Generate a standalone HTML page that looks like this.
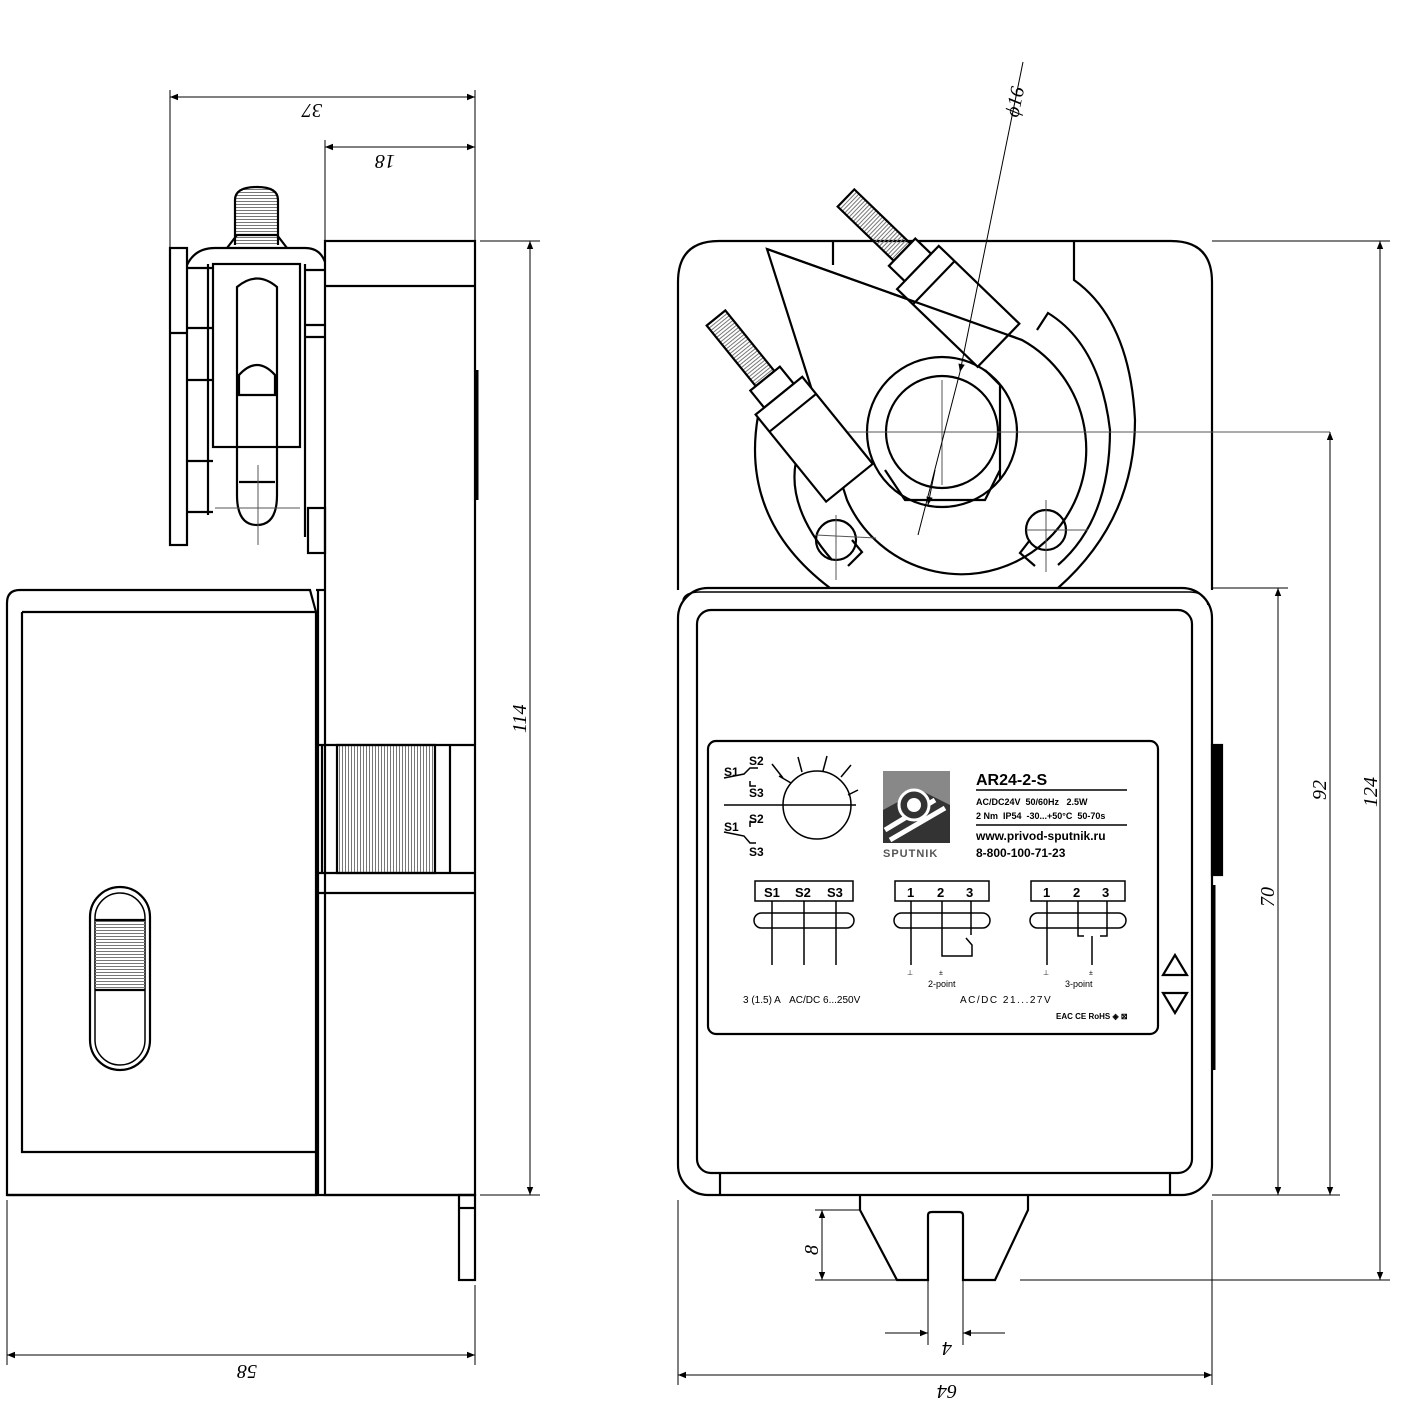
<!DOCTYPE html>
<html><head><meta charset="utf-8"><style>
html,body{margin:0;padding:0;background:#fff}
svg{display:block}
text{font-family:"Liberation Sans",sans-serif}
.d{font-family:"Liberation Serif",serif;font-style:italic;font-size:20px}
</style></head><body>
<svg width="1407" height="1411" viewBox="0 0 1407 1411" xmlns="http://www.w3.org/2000/svg">
<defs>
<marker id="a" viewBox="0 0 10 10" refX="10" refY="5" markerWidth="14" markerHeight="8" orient="auto-start-reverse" markerUnits="userSpaceOnUse"><path d="M0,1 L10,5 L0,9z" fill="#000"/></marker>
<pattern id="k" width="3" height="3" patternUnits="userSpaceOnUse"><rect width="3" height="1" fill="#777"/></pattern>
<pattern id="kv" width="3" height="3" patternUnits="userSpaceOnUse"><rect width="1" height="3" fill="#777"/></pattern>
</defs>
<g fill="none" stroke="#000" stroke-width="2.2">
<!-- LEFT VIEW -->
<rect x="325" y="241" width="150" height="954"/>
<line x1="325" y1="286" x2="475" y2="286"/>
<line x1="477" y1="370" x2="477" y2="500" stroke-width="3"/>
<rect x="170" y="248" width="17" height="297"/>
<line x1="170" y1="333" x2="187" y2="333"/>
<path d="M187,265 Q195,248 215,248 L305,248 Q320,248 325,262"/>
<rect x="213" y="264" width="87" height="183"/>
<line x1="187" y1="268" x2="213" y2="268"/>
<line x1="187" y1="328" x2="213" y2="328"/><line x1="187" y1="380" x2="213" y2="380"/><line x1="187" y1="461" x2="213" y2="461"/>
<line x1="187" y1="512" x2="213" y2="512"/>
<line x1="208" y1="264" x2="208" y2="515"/>
<line x1="305" y1="264" x2="305" y2="537"/>
<line x1="305" y1="270" x2="325" y2="270"/><line x1="305" y1="325" x2="325" y2="325"/><line x1="305" y1="337" x2="325" y2="337"/>
<rect x="308" y="508" width="17" height="45"/>
<path d="M237,287 Q257,270 277,287 L277,495 Q277,525 257,525 Q237,525 237,495 Z"/>
<path d="M239,375 Q257,355 275,375 L275,395 L239,395Z"/>
<line x1="239" y1="482" x2="275" y2="482"/>
<path d="M235,245 L235,200 Q235,187 257,187 Q278,187 278,200 L278,245" fill="url(#k)"/>
<path d="M227,248 L237,235 L277,235 L287,248"/>
<!-- lower body -->
<path d="M7,1195 L7,603 Q7,590 20,590 L310,590 L316,612 L316,1195 Z"/>
<path d="M22,612 L316,612 M22,612 L22,1152 L316,1152"/>
<line x1="316" y1="590" x2="325" y2="590"/>
<line x1="318" y1="590" x2="318" y2="1195"/>
<line x1="318" y1="745" x2="475" y2="745"/>
<line x1="318" y1="873" x2="475" y2="873"/>
<line x1="318" y1="893" x2="475" y2="893"/>
<rect x="337" y="745" width="98" height="128" fill="url(#kv)"/>
<line x1="322" y1="745" x2="322" y2="873"/><line x1="450" y1="745" x2="450" y2="873"/>
<rect x="90" y="887" width="60" height="183" rx="30"/>
<rect x="95" y="893" width="50" height="172" rx="25" stroke-width="1.5"/>
<rect x="95" y="920" width="50" height="70" fill="url(#k)" stroke="none"/>
<line x1="95" y1="920" x2="145" y2="920"/><line x1="95" y1="990" x2="145" y2="990"/>
<line x1="7" y1="1195" x2="475" y2="1195"/>
<rect x="459" y="1195" width="16" height="85"/>
<line x1="459" y1="1208" x2="475" y2="1208"/>
<!-- RIGHT VIEW upper -->
<path d="M678,590 L678,282 Q678,241 719,241 L1171,241 Q1212,241 1212,282 L1212,590"/>
<path d="M833,241 L833,265 M1074,241 L1074,280 Q1130,320 1135,420 Q1135,520 1058,588"/>
<path d="M758,416 Q740,520 830,588"/>
<!-- teardrop -->
<path d="M767,249 L1022,340 A125,125 0 1 1 847,500 Z" fill="#fff"/>
<circle cx="942" cy="432" r="75"/>
<circle cx="942" cy="432" r="56"/>
<path d="M885,470 L905,500 L985,500 L1000,470 M985,370 L1000,385 L1000,480"/>
<path d="M1037,330 L1048,313 Q1100,345 1110,430 Q1110,520 1058,565"/>
<path d="M800,447 Q780,500 832,560"/>
<circle cx="836" cy="540" r="20"/><circle cx="1046" cy="530" r="20"/>
<path d="M852,540 L862,552 L848,566 M1030,540 L1020,553 L1035,566"/>
<!-- screws -->
<g transform="translate(846,198) rotate(44)">
<rect x="0" y="-12" width="78" height="24" fill="url(#kv)"/>
<rect x="78" y="-19" width="22" height="38" fill="#fff"/>
<rect x="100" y="-30" width="112" height="60" fill="#fff"/>
<line x1="122" y1="-30" x2="122" y2="30"/>
</g>
<g transform="translate(716,318) rotate(51)">
<rect x="0" y="-12" width="78" height="24" fill="url(#kv)"/>
<rect x="78" y="-19" width="22" height="38" fill="#fff"/>
<rect x="100" y="-30" width="112" height="60" fill="#fff"/>
<line x1="122" y1="-30" x2="122" y2="30"/>
</g>
<path d="M767,249 L1022,340" />
<!-- lower box -->
<rect x="678" y="588" width="534" height="607" rx="30"/>
<rect x="697" y="610" width="495" height="563" rx="14"/>
<path d="M683,600 Q685,592 700,592 L1190,592 Q1205,592 1208,605" stroke-width="1.5"/>
<line x1="720" y1="1173" x2="720" y2="1195"/><line x1="1170" y1="1173" x2="1170" y2="1195"/>
<rect x="1212" y="745" width="10" height="130" fill="#000"/>
<line x1="1214" y1="885" x2="1214" y2="1070" stroke-width="3"/>
<path d="M1175,955 L1163,975 L1187,975Z M1163,993 L1187,993 L1175,1013Z"/>
<!-- bottom tab -->
<path d="M860,1195 L860,1210 L897,1280 L928,1280 L928,1215 Q928,1212 932,1212 L959,1212 Q963,1212 963,1215 L963,1280 L995,1280 L1028,1210 L1028,1195"/>
<!-- label -->
<rect x="708" y="741" width="450" height="293" rx="8"/>
</g>
<!-- centerlines -->
<g stroke="#555" stroke-width="1" fill="none">
<path d="M942,380 L942,485 M848,432 L1330,432 M258,465 L258,545 M215,508 L300,508"/>
<path d="M816,535 L876,538 M836,515 L836,580 M1026,530 L1088,530 M1046,500 L1046,572"/>
</g>
<!-- label contents -->
<g stroke="#000" stroke-width="1.5" fill="none">
<circle cx="817" cy="805" r="34"/>
<path d="M724,805 L856,805 M783,778 L772,764 M802,772 L798,757 M823,771 L827,756 M841,777 L851,765 M848,795 L858,790 M791,783 L779,776"/>
<path d="M724,778 L744,774 L750,768 L758,768 M750,781 L750,786 L756,786"/>
<path d="M724,832 L744,836 L750,843 L756,843 M750,827 L750,822 L756,822"/>
<rect x="755" y="881" width="98" height="20"/><rect x="895" y="881" width="94" height="20"/><rect x="1031" y="881" width="94" height="20"/>
<rect x="754" y="913" width="100" height="15" rx="7.5"/><rect x="894" y="913" width="96" height="15" rx="7.5"/><rect x="1030" y="913" width="96" height="15" rx="7.5"/>
<path d="M772,901 L772,965 M804,901 L804,965 M836,901 L836,965"/>
<path d="M911,901 L911,965 M942,901 L942,956 L972,956 L972,945 L966,938 M971,901 L971,935"/>
<path d="M1047,901 L1047,965 M1078,901 L1078,936 L1084,936 M1107,901 L1107,936 L1100,936 M1092,936 L1092,965"/>
<line x1="976" y1="790" x2="1127" y2="790"/><line x1="976" y1="825" x2="1127" y2="825"/>
</g>
<rect x="883" y="771" width="67" height="72" fill="#888"/>
<path d="M883,843 L883,810 L920,790 L950,805 L950,843Z" fill="#333"/>
<path d="M885,830 L935,800 M890,840 L945,808" stroke="#fff" stroke-width="5"/>
<circle cx="914" cy="805" r="15" fill="#333" stroke="#fff" stroke-width="3"/>
<circle cx="914" cy="805" r="7" fill="#fff"/>
<g font-weight="bold" fill="#000">
<text x="724" y="776" font-size="12">S1</text><text x="749" y="765" font-size="12">S2</text><text x="749" y="797" font-size="12">S3</text>
<text x="724" y="831" font-size="12">S1</text><text x="749" y="823" font-size="12">S2</text><text x="749" y="856" font-size="12">S3</text>
<text x="883" y="857" font-size="11" font-family="Liberation Serif,serif" fill="#555" letter-spacing="1">SPUTNIK</text>
<text x="976" y="785" font-size="16">AR24-2-S</text>
<text x="976" y="805" font-size="9">AC/DC24V&#160;&#160;50/60Hz&#160;&#160;&#160;2.5W</text>
<text x="976" y="819" font-size="9">2 Nm&#160;&#160;IP54&#160;&#160;-30...+50°C&#160;&#160;50-70s</text>
<text x="976" y="840" font-size="12">www.privod-sputnik.ru</text>
<text x="976" y="857" font-size="12">8-800-100-71-23</text>
<text x="764" y="897" font-size="13">S1</text><text x="795" y="897" font-size="13">S2</text><text x="827" y="897" font-size="13">S3</text>
<text x="907" y="897" font-size="13">1</text><text x="937" y="897" font-size="13">2</text><text x="966" y="897" font-size="13">3</text>
<text x="1043" y="897" font-size="13">1</text><text x="1073" y="897" font-size="13">2</text><text x="1102" y="897" font-size="13">3</text>
</g>
<g fill="#000" font-size="9">
<text x="928" y="987">2-point</text><text x="1065" y="987">3-point</text>
<text x="907" y="975" font-size="7">⊥</text><text x="939" y="975" font-size="7">±</text><text x="1043" y="975" font-size="7">⊥</text><text x="1089" y="975" font-size="7">±</text>
<text x="743" y="1003" font-size="10">3 (1.5) A&#160;&#160;&#160;AC/DC 6...250V</text>
<text x="960" y="1003" font-size="10" letter-spacing="1.5">AC/DC  21...27V</text>
<text x="1056" y="1019" font-size="8" font-weight="bold">EAC CE RoHS ◈ ⊠</text>
</g>
<!-- dimensions -->
<g stroke="#000" stroke-width="1" fill="none">
<line x1="170" y1="90" x2="170" y2="248"/><line x1="475" y1="90" x2="475" y2="241"/><line x1="325" y1="140" x2="325" y2="241"/>
<line x1="170" y1="97" x2="475" y2="97" marker-start="url(#a)" marker-end="url(#a)"/>
<line x1="325" y1="147" x2="475" y2="147" marker-start="url(#a)" marker-end="url(#a)"/>
<line x1="480" y1="241" x2="540" y2="241"/><line x1="480" y1="1195" x2="540" y2="1195"/>
<line x1="530" y1="241" x2="530" y2="1195" marker-start="url(#a)" marker-end="url(#a)"/>
<line x1="7" y1="1200" x2="7" y2="1365"/><line x1="475" y1="1285" x2="475" y2="1365"/>
<line x1="7" y1="1355" x2="475" y2="1355" marker-start="url(#a)" marker-end="url(#a)"/>
<line x1="1212" y1="241" x2="1390" y2="241"/><line x1="1020" y1="1280" x2="1390" y2="1280"/>
<line x1="1380" y1="241" x2="1380" y2="1280" marker-start="url(#a)" marker-end="url(#a)"/>
<line x1="1212" y1="1195" x2="1340" y2="1195"/>
<line x1="1330" y1="432" x2="1330" y2="1195" marker-start="url(#a)" marker-end="url(#a)"/>
<line x1="1212" y1="588" x2="1288" y2="588"/>
<line x1="1278" y1="588" x2="1278" y2="1195" marker-start="url(#a)" marker-end="url(#a)"/>
<line x1="815" y1="1210" x2="860" y2="1210"/><line x1="815" y1="1280" x2="897" y2="1280"/>
<line x1="822" y1="1210" x2="822" y2="1280" marker-start="url(#a)" marker-end="url(#a)"/>
<line x1="928" y1="1280" x2="928" y2="1345"/><line x1="963" y1="1280" x2="963" y2="1345"/>
<line x1="885" y1="1333" x2="928" y2="1333" marker-end="url(#a)"/><line x1="1005" y1="1333" x2="963" y2="1333" marker-end="url(#a)"/>
<line x1="678" y1="1200" x2="678" y2="1385"/><line x1="1212" y1="1200" x2="1212" y2="1385"/>
<line x1="678" y1="1375" x2="1212" y2="1375" marker-start="url(#a)" marker-end="url(#a)"/>
<line x1="1023" y1="62" x2="960" y2="372" marker-end="url(#a)"/>
<line x1="960" y1="372" x2="918" y2="535"/>
<line x1="935" y1="470" x2="928" y2="505" marker-end="url(#a)"/>
</g>
<g fill="#000">
<text class="d" transform="translate(322,104) rotate(180)">37</text>
<text class="d" transform="translate(395,155) rotate(180)">18</text>
<text class="d" transform="translate(526,733) rotate(-90)">114</text>
<text class="d" transform="translate(257,1365) rotate(180)">58</text>
<text class="d" transform="translate(1377,807) rotate(-90)">124</text>
<text class="d" transform="translate(1326,800) rotate(-90)">92</text>
<text class="d" transform="translate(1274,907) rotate(-90)">70</text>
<text class="d" transform="translate(818,1255) rotate(-90)">8</text>
<text class="d" transform="translate(952,1342) rotate(180)">4</text>
<text class="d" transform="translate(957,1385) rotate(180)">64</text>
<text class="d" transform="translate(1018,118) rotate(-78)">ϕ16</text>
</g>
</svg>
</body></html>
